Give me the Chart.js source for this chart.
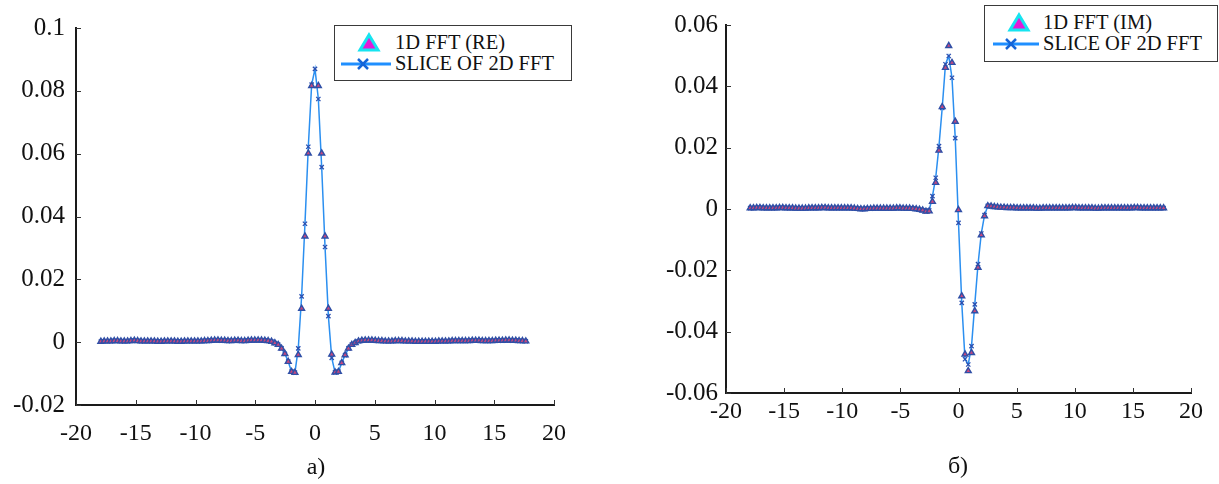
<!DOCTYPE html>
<html>
<head>
<meta charset="utf-8">
<script src="https://cdn.jsdelivr.net/npm/chart.js@4.4.1/dist/chart.umd.min.js"></script>
<style>
  html, body { margin:0; padding:0; background:#fff; }
  #wrap { position:relative; width:1219px; height:484px; overflow:hidden; background:#fff; font-family:"Liberation Serif", "Times New Roman", serif; }
  canvas { position:absolute; top:0; }
  .legend { position:absolute; border:1.5px solid #3a3a3a; background:#fff; box-sizing:border-box; }
  .legend .txt { position:absolute; font-size:20.5px; line-height:22px; color:#111; white-space:nowrap; }
  .legend svg { position:absolute; left:0; top:0; }
  .cap { position:absolute; font-size:24px; line-height:26px; color:#111; transform:translateX(-50%); }
</style>
</head>
<body>
<div id="wrap">
  <canvas id="cRe" width="610" height="484" style="left:0px;width:610px;height:484px"></canvas>
  <canvas id="cIm" width="599" height="484" style="left:620px;width:599px;height:484px"></canvas>

  <div class="legend" style="left:334px;top:25px;width:238px;height:56px;">
    <svg width="238" height="56">
      <polygon points="34,9 43,24 25,24" fill="#e41ad6" stroke="#16e4f0" stroke-width="3" stroke-linejoin="miter"/>
      <line x1="6" y1="38" x2="56" y2="38" stroke="#1f8fff" stroke-width="3"/>
      <line x1="23" y1="33" x2="33" y2="43" stroke="#1565d8" stroke-width="2.5"/>
      <line x1="33" y1="33" x2="23" y2="43" stroke="#1565d8" stroke-width="2.5"/>
    </svg>
    <div class="txt" style="left:60px;top:5px;">1D FFT (RE)</div>
    <div class="txt" style="left:60px;top:26px;">SLICE OF 2D FFT</div>
  </div>

  <div class="legend" style="left:984px;top:5px;width:234px;height:57px;">
    <svg width="234" height="57">
      <polygon points="34,9 43,24 25,24" fill="#e41ad6" stroke="#16e4f0" stroke-width="3" stroke-linejoin="miter"/>
      <line x1="8" y1="38" x2="54" y2="38" stroke="#1f8fff" stroke-width="3"/>
      <line x1="21" y1="33" x2="31" y2="43" stroke="#1565d8" stroke-width="2.5"/>
      <line x1="31" y1="33" x2="21" y2="43" stroke="#1565d8" stroke-width="2.5"/>
    </svg>
    <div class="txt" style="left:58px;top:5px;">1D FFT (IM)</div>
    <div class="txt" style="left:58px;top:26px;">SLICE OF 2D FFT</div>
  </div>

  <div class="cap" style="left:316px;top:453px;">a)</div>
  <div class="cap" style="left:958px;top:452px;">б)</div>
</div>

<script>
// ---- frequency bins (x positions of the samples) ----
const freq = [
  -17.92,-17.64,-17.36,-17.08,-16.80,-16.52,-16.24,-15.96,-15.68,-15.40,-15.12,-14.84,-14.56,-14.28,-14.00,-13.72,
  -13.44,-13.16,-12.88,-12.60,-12.32,-12.04,-11.76,-11.48,-11.20,-10.92,-10.64,-10.36,-10.08,-9.80,-9.52,-9.24,
  -8.96,-8.68,-8.40,-8.12,-7.84,-7.56,-7.28,-7.00,-6.72,-6.44,-6.16,-5.88,-5.60,-5.32,-5.04,-4.76,
  -4.48,-4.20,-3.92,-3.64,-3.36,-3.08,-2.80,-2.52,-2.24,-1.96,-1.68,-1.40,-1.12,-0.84,-0.56,-0.28,
  0.00,0.28,0.56,0.84,1.12,1.40,1.68,1.96,2.24,2.52,2.80,3.08,3.36,3.64,3.92,4.20,
  4.48,4.76,5.04,5.32,5.60,5.88,6.16,6.44,6.72,7.00,7.28,7.56,7.84,8.12,8.40,8.68,
  8.96,9.24,9.52,9.80,10.08,10.36,10.64,10.92,11.20,11.48,11.76,12.04,12.32,12.60,12.88,13.16,
  13.44,13.72,14.00,14.28,14.56,14.84,15.12,15.40,15.68,15.96,16.24,16.52,16.80,17.08,17.36,17.64
];

// ---- chart a): real part ----
const re1D = [
  0.0002,0.0003,0.0003,0.0003,0.0004,0.0004,0.0003,0.0003,0.0003,0.0004,0.0005,0.0004,0.0003,0.0003,0.0003,0.0003,
  0.0003,0.0002,0.0002,0.0003,0.0003,0.0003,0.0003,0.0002,0.0002,0.0003,0.0003,0.0003,0.0003,0.0003,0.0003,0.0004,
  0.0004,0.0005,0.0006,0.0006,0.0005,0.0005,0.0004,0.0004,0.0005,0.0005,0.0004,0.0004,0.0005,0.0006,0.0006,0.0006,
  0.0006,0.0005,0.0004,0.0002,-0.0003,-0.0008,-0.0020,-0.0037,-0.0062,-0.0094,-0.0097,-0.0040,0.0107,0.0337,0.0601,0.0816,
  null,0.0816,0.0601,0.0337,0.0107,-0.0039,-0.0096,-0.0094,-0.0066,-0.0041,-0.0020,-0.0008,-0.0002,0.0003,0.0005,0.0006,
  0.0006,0.0006,0.0005,0.0004,0.0004,0.0003,0.0003,0.0003,0.0004,0.0004,0.0004,0.0003,0.0003,0.0003,0.0002,0.0002,
  0.0002,0.0002,0.0002,0.0002,0.0002,0.0003,0.0003,0.0003,0.0003,0.0004,0.0004,0.0004,0.0004,0.0004,0.0004,0.0005,
  0.0005,0.0005,0.0004,0.0004,0.0004,0.0004,0.0005,0.0005,0.0005,0.0006,0.0006,0.0005,0.0005,0.0004,0.0004,0.0003
];
const reSlice = [
  0.0002,0.0003,0.0003,0.0003,0.0004,0.0004,0.0003,0.0003,0.0003,0.0004,0.0005,0.0004,0.0003,0.0003,0.0003,0.0003,
  0.0003,0.0002,0.0002,0.0003,0.0003,0.0003,0.0003,0.0002,0.0002,0.0003,0.0003,0.0003,0.0003,0.0003,0.0003,0.0004,
  0.0004,0.0005,0.0006,0.0006,0.0005,0.0005,0.0004,0.0004,0.0005,0.0005,0.0004,0.0004,0.0005,0.0006,0.0006,0.0006,
  0.0006,0.0005,0.0004,0.0002,-0.0003,-0.0008,-0.0020,-0.0037,-0.0062,-0.0094,-0.0097,-0.0020,0.0146,0.0377,0.0622,0.0820,
  0.0870,0.0774,0.0557,0.0303,0.0083,-0.0050,-0.0096,-0.0094,-0.0066,-0.0041,-0.0020,-0.0008,-0.0002,0.0003,0.0005,0.0006,
  0.0006,0.0006,0.0005,0.0004,0.0004,0.0003,0.0003,0.0003,0.0004,0.0004,0.0004,0.0003,0.0003,0.0003,0.0002,0.0002,
  0.0002,0.0002,0.0002,0.0002,0.0002,0.0003,0.0003,0.0003,0.0003,0.0004,0.0004,0.0004,0.0004,0.0004,0.0004,0.0005,
  0.0005,0.0005,0.0004,0.0004,0.0004,0.0004,0.0005,0.0005,0.0005,0.0006,0.0006,0.0005,0.0005,0.0004,0.0004,0.0003
];

// ---- chart б): imaginary part ----
const im1D = [
  0.0003,0.0003,0.0004,0.0004,0.0003,0.0003,0.0003,0.0003,0.0003,0.0004,0.0004,0.0003,0.0003,0.0003,0.0002,0.0002,
  0.0002,0.0002,0.0003,0.0003,0.0003,0.0003,0.0004,0.0004,0.0003,0.0003,0.0003,0.0003,0.0003,0.0003,0.0003,0.0003,
  0.0002,0.0001,0.0000,0.0000,0.0001,0.0001,0.0002,0.0002,0.0002,0.0002,0.0002,0.0002,0.0002,0.0003,0.0003,0.0002,
  0.0002,0.0002,0.0001,0.0000,-0.0002,-0.0004,-0.0008,-0.0007,0.0024,0.0086,0.0191,0.0333,0.0461,0.0532,0.0477,0.0285,
  -0.0003,-0.0284,-0.0474,-0.0528,-0.0469,-0.0333,-0.0191,-0.0085,-0.0023,0.0010,0.0009,0.0007,0.0006,0.0005,0.0005,0.0004,
  0.0004,0.0004,0.0003,0.0003,0.0003,0.0003,0.0003,0.0003,0.0002,0.0002,0.0003,0.0003,0.0003,0.0003,0.0003,0.0003,
  0.0003,0.0003,0.0003,0.0004,0.0004,0.0003,0.0003,0.0003,0.0003,0.0003,0.0002,0.0002,0.0003,0.0003,0.0003,0.0003,
  0.0003,0.0003,0.0003,0.0003,0.0003,0.0003,0.0004,0.0004,0.0003,0.0003,0.0003,0.0003,0.0003,0.0003,0.0003,0.0003
];
const imSlice = [
  0.0003,0.0003,0.0004,0.0004,0.0003,0.0003,0.0003,0.0003,0.0003,0.0004,0.0004,0.0003,0.0003,0.0003,0.0002,0.0002,
  0.0002,0.0002,0.0003,0.0003,0.0003,0.0003,0.0004,0.0004,0.0003,0.0003,0.0003,0.0003,0.0003,0.0003,0.0003,0.0003,
  0.0002,0.0001,0.0000,0.0000,0.0001,0.0001,0.0002,0.0002,0.0002,0.0002,0.0002,0.0002,0.0002,0.0003,0.0003,0.0002,
  0.0002,0.0002,0.0001,0.0000,-0.0002,-0.0004,-0.0008,-0.0005,0.0042,0.0102,0.0205,0.0330,0.0472,0.0499,0.0428,0.0231,
  -0.0045,-0.0306,-0.0490,-0.0507,-0.0447,-0.0311,-0.0180,-0.0080,-0.0020,0.0010,0.0009,0.0007,0.0006,0.0005,0.0005,0.0004,
  0.0004,0.0004,0.0003,0.0003,0.0003,0.0003,0.0003,0.0003,0.0002,0.0002,0.0003,0.0003,0.0003,0.0003,0.0003,0.0003,
  0.0003,0.0003,0.0003,0.0004,0.0004,0.0003,0.0003,0.0003,0.0003,0.0003,0.0002,0.0002,0.0003,0.0003,0.0003,0.0003,
  0.0003,0.0003,0.0003,0.0003,0.0003,0.0003,0.0004,0.0004,0.0003,0.0003,0.0003,0.0003,0.0003,0.0003,0.0003,0.0003
];

// ---- tick values / labels ----
const xTickVals   = [-20, -15, -10, -5, 0, 5, 10, 15, 20];
const xTickLabels = ['-20', '-15', '-10', '-5', '0', '5', '10', '15', '20'];
const reTickVals   = [-0.02, 0, 0.02, 0.04, 0.06, 0.08, 0.1];
const reTickLabels = ['-0.02', '0', '0.02', '0.04', '0.06', '0.08', '0.1'];
const imTickVals   = [-0.06, -0.04, -0.02, 0, 0.02, 0.04, 0.06];
const imTickLabels = ['-0.06', '-0.04', '-0.02', '0', '0.02', '0.04', '0.06'];

Chart.defaults.font.family = "'Liberation Serif', 'Times New Roman', serif";
Chart.defaults.font.size = 24;
Chart.defaults.color = '#111';

function toPoints(xs, ys) {
  const out = [];
  xs.forEach((x, i) => { if (ys[i] !== null) out.push({ x: x, y: ys[i] }); });
  return out;
}

const inwardTicks = {
  id: 'inwardTicks',
  afterDraw(chart) {
    const { ctx, chartArea: a, scales } = chart;
    const sx = scales.x, sy = scales.y;
    ctx.save();
    ctx.strokeStyle = '#333';
    ctx.lineWidth = 1;
    sx.ticks.forEach(t => {
      const px = Math.round(sx.getPixelForValue(t.value)) + 0.5;
      ctx.beginPath(); ctx.moveTo(px, a.bottom); ctx.lineTo(px, a.bottom - 5); ctx.stroke();
    });
    sy.ticks.forEach(t => {
      const py = Math.round(sy.getPixelForValue(t.value)) + 0.5;
      ctx.beginPath(); ctx.moveTo(a.left, py); ctx.lineTo(a.left + 5, py); ctx.stroke();
    });
    ctx.restore();
  }
};

function makeChart(id, v1D, vSlice, yMin, yMax, yTickVals, yTickLabels, geom) {
  return new Chart(document.getElementById(id), {
    type: 'scatter',
    data: {
      datasets: [
        {
          label: '1D FFT',
          data: toPoints(freq, v1D),
          showLine: false,
          pointStyle: 'triangle',
          pointRadius: 3.4,
          pointBackgroundColor: '#c8487e',
          pointBorderColor: '#2f4fa6',
          pointBorderWidth: 1.4,
          clip: false
        },
        {
          label: 'SLICE OF 2D FFT',
          data: toPoints(freq, vSlice),
          showLine: true,
          borderColor: '#2b8ff0',
          borderWidth: 1.5,
          tension: 0,
          pointStyle: 'crossRot',
          pointRadius: 3,
          pointBorderColor: '#2a4fb0',
          pointBorderWidth: 1.3,
          clip: false
        }
      ]
    },
    options: {
      responsive: false,
      animation: false,
      devicePixelRatio: 1,
      layout: { padding: { left: 0, top: geom.top, right: geom.right, bottom: 0 } },
      plugins: { legend: { display: false }, tooltip: { enabled: false } },
      scales: {
        x: {
          type: 'linear', min: -20, max: 20,
          afterBuildTicks: s => { s.ticks = xTickVals.map(v => ({ value: v })); },
          afterFit: s => { s.height = geom.xh; },
          ticks: { callback: (v, i) => xTickLabels[i], font: { family: "'Liberation Serif', serif", size: 24 }, color: '#111', padding: geom.xpad, maxRotation: 0, autoSkip: false },
          grid: { display: false, drawTicks: false },
          border: { display: true, color: '#1a1a1a', width: 2 }
        },
        y: {
          type: 'linear', min: yMin, max: yMax,
          afterBuildTicks: s => { s.ticks = yTickVals.map(v => ({ value: v })); },
          afterFit: s => { s.width = geom.yw; },
          ticks: { callback: (v, i) => yTickLabels[i], font: { family: "'Liberation Serif', serif", size: 25 }, color: '#111', padding: geom.ypad, autoSkip: false },
          grid: { display: false, drawTicks: false },
          border: { display: true, color: '#1a1a1a', width: 2 }
        }
      }
    },
    plugins: [inwardTicks]
  });
}

makeChart('cRe', re1D, reSlice, -0.02, 0.1, reTickVals, reTickLabels,
  { top: 28, right: 56, xh: 79, yw: 76, xpad: 14, ypad: 11 });
makeChart('cIm', im1D, imSlice, -0.06, 0.06, imTickVals, imTickLabels,
  { top: 25, right: 28, xh: 91, yw: 106, xpad: 4, ypad: 8 });
</script>
</body>
</html>
